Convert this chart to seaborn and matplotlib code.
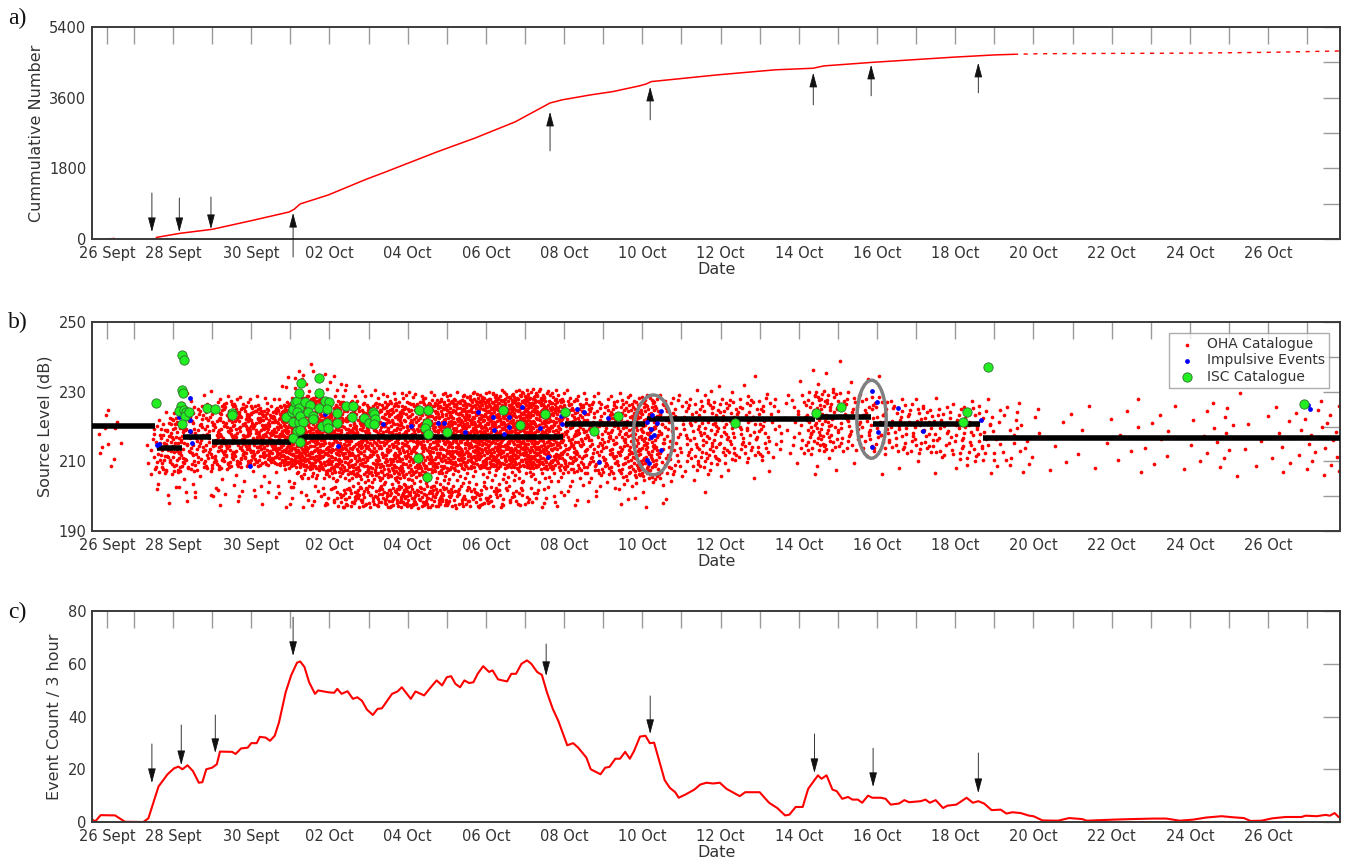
import numpy as np
import pandas as pd
import matplotlib
matplotlib.use("Agg")
import matplotlib.pyplot as plt
from matplotlib.patches import Ellipse
import seaborn as sns

# x axis is in days after 26 Sept 00:00
tick_days = [0.31, 2, 4, 6, 8, 10, 12, 14, 16, 18, 20, 22, 24, 26, 28, 30]
tick_labels = ["26 Sept", "28 Sept", "30 Sept", "02 Oct", "04 Oct", "06 Oct", "08 Oct",
               "10 Oct", "12 Oct", "14 Oct", "16 Oct", "18 Oct", "20 Oct", "22 Oct",
               "24 Oct", "26 Oct"]
minor_days = list(range(1, 32, 2))
x_lim = (-0.07, 31.84)

# a) cumulative number (read off the curve)
cum_days_start = [0.30, 0.38, 0.45, 0.50]
cum_vals_start = [0, 5, 10, 15]
cum_days = [1.57, 2.18, 3.0, 4.0, 4.97, 5.1, 5.25, 5.97, 6.96, 7.37, 7.96, 8.75, 9.73,
            10.75, 11.64, 11.95, 12.67, 13.25, 13.92, 14.1, 14.23, 15.91, 17.4, 18.37,
            18.5, 18.65, 19.88, 21.92, 23.02, 23.5]
cum_vals = [40, 145, 247, 467, 689, 760, 893, 1122, 1530, 1683, 1913, 2219, 2575,
            2985, 3465, 3545, 3670, 3756, 3900, 3950, 4010, 4180, 4310, 4350,
            4380, 4410, 4500, 4630, 4690, 4705]
cum_days_tail = [23.5, 24.2, 26.0, 28.04, 30.0, 31.84]
cum_vals_tail = [4705, 4720, 4728, 4735, 4755, 4790]

# c) event count per 3 hours
rate_days = [-0.07, 0.01, 0.15, 0.52, 0.77, 1.24, 1.37, 1.63, 1.86, 2.03, 2.14, 2.24, 2.37,
             2.51, 2.66, 2.75, 2.85, 3.0, 3.12, 3.2, 3.51, 3.6, 3.74, 3.91, 4.0, 4.14,
             4.22, 4.37, 4.48, 4.6, 4.71, 4.88, 5.02, 5.17, 5.25, 5.36, 5.48, 5.63, 5.71,
             5.97, 6.12, 6.2, 6.31, 6.46, 6.6, 6.71, 6.83, 6.96, 7.11, 7.23, 7.34, 7.45,
             7.6, 7.74, 7.85, 8.08, 8.2, 8.42, 8.63, 8.74, 8.88, 9.0, 9.11, 9.22, 9.34,
             9.45, 9.57, 9.68, 9.79, 9.93, 10.08, 10.17, 10.31, 10.54, 10.65, 10.77,
             10.91, 11.05, 11.16, 11.31, 11.43, 11.56, 11.71, 11.85, 11.96, 12.08,
             12.23, 12.36, 12.57, 12.68, 12.93, 13.05, 13.16, 13.31, 13.43, 13.56,
             13.68, 13.79, 13.94, 14.08, 14.19, 14.3, 14.42, 14.57, 14.7, 14.84, 14.93,
             15.1, 15.33, 15.48, 15.64, 15.81, 15.98, 16.15, 16.49, 16.63, 17.0, 17.24,
             17.45, 17.65, 17.76, 17.92, 18.1, 18.24, 18.49, 18.58, 18.71, 18.86, 18.97,
             19.11, 19.26, 19.37, 19.51, 19.62, 19.77, 19.88, 20.1, 20.22, 20.35, 20.56,
             20.7, 20.82, 21.12, 21.24, 21.35, 21.5, 21.69, 21.8, 22.03, 22.29, 22.45,
             22.59, 22.74, 22.93, 23.16, 23.31, 23.46, 23.67, 23.89, 24.0, 24.23, 24.63,
             24.91, 25.25, 25.36, 26.04, 26.49, 27.06, 27.4, 27.74, 28.08, 28.42, 28.81,
             29.1, 29.38, 29.55, 29.83, 30.11, 30.45, 30.85, 30.96, 31.24, 31.47, 31.58,
             31.7, 31.81]
rate_vals = [1.0, 0.2, 2.6, 2.5, 0.1, 0.0, 1.4, 13.5, 18.1, 20.4, 21.0, 20.0, 21.5,
             19.3, 14.9, 15.1, 20.0, 20.6, 21.9, 26.7, 26.6, 25.8, 27.9, 28.2, 29.9, 29.9,
             32.3, 32.0, 30.8, 32.7, 37.8, 49.2, 55.6, 60.4, 60.9, 58.8, 53.0, 48.6, 49.9,
             49.2, 49.0, 50.5, 48.6, 49.6, 46.7, 47.3, 46.0, 42.6, 40.6, 42.9, 43.1, 45.4,
             48.6, 49.5, 51.1, 46.7, 49.5, 48.0, 51.8, 53.7, 51.8, 54.9, 55.3, 52.4, 51.1,
             53.7, 52.7, 53.0, 56.2, 59.1, 56.9, 57.5, 54.1, 53.3, 56.2, 56.2,
             60.0, 61.3, 60.0, 56.9, 55.8, 49.2, 42.9, 38.4, 34.0, 29.1,
             29.9, 28.2, 24.4, 20.0, 18.1, 20.6, 20.9, 24.0, 24.0, 26.6,
             24.0, 27.0, 32.4, 32.7, 29.9, 30.1, 23.8, 15.9, 13.0, 11.3, 9.2,
             10.4, 12.3, 14.2, 14.9, 14.6, 14.9, 12.6, 9.8, 11.3, 11.3, 7.3,
             5.3, 2.5, 2.8, 5.7, 5.7, 12.6, 17.7, 16.4, 17.7, 12.3, 11.7,
             8.8, 9.5, 8.5, 8.5, 7.3, 10.0, 9.2, 9.2, 8.8, 6.6, 7.0,
             8.3, 7.5, 7.9, 8.5, 7.3, 8.3, 5.3, 6.2, 6.6, 9.2, 7.3,
             7.9, 7.0, 4.5, 4.7, 3.2, 3.7, 3.4, 2.4, 2.2, 0.6, 0.5,
             1.5, 1.1, 0.5, 0.9, 1.1, 1.3, 1.3, 0.5, 0.9, 1.7, 2.2,
             1.8, 1.5, 0.4, 0.5, 1.4, 1.9, 1.9, 2.4, 2.2, 2.7, 2.4,
             3.4, 1.8]

# arrows marking the events
arrow_a_days = [1.46, 2.16, 2.97, 5.07, 11.64, 14.2, 18.37, 19.85, 22.59]
arrow_a_tail = [1173, 1045, 1071, -459, 2244, 3035, 3417, 3647, 3723]
arrow_a_head = [178, 178, 255, 663, 3239, 3876, 4233, 4437, 4488]
arrow_c_days = [1.46, 2.21, 3.08, 5.07, 11.54, 14.2, 18.4, 19.9, 22.59]
arrow_c_tail = [29.6, 36.8, 40.6, 77.7, 67.5, 47.8, 33.4, 28.0, 26.2]
arrow_c_head = [14.8, 21.6, 26.2, 63.0, 55.4, 33.4, 18.6, 13.3, 11.0]

# b) median source level per interval
seg_start = [-0.07, 1.59, 2.26, 3.0, 5.05, 12.03, 14.12, 18.45, 19.9, 22.72]
seg_end = [1.54, 2.23, 2.97, 5.02, 11.98, 14.07, 18.42, 19.85, 22.64, 31.84]
seg_level = [220.2, 213.7, 216.9, 215.5, 216.9, 220.7, 222.2, 222.8, 220.7, 216.8]

# b) spread of the OHA source levels through time (edges of the red cloud)
band_days = [0.3, 1.5, 2.5, 3.5, 4.5, 5.4, 6.5, 8.0, 9.6, 11.2, 13.0, 14.4, 16.4, 19.0, 21.2, 24.0, 30.0]
band_lo = [209, 199.5, 200, 199.5, 199.5, 205, 204, 203, 203, 204, 202, 203, 205, 206, 206, 206, 205.7]
band_q05 = [210, 206, 207, 208, 209, 208, 206, 205, 208, 208, 206, 205, 210, 213, 212, 207, 207]
band_q95 = [225, 220, 226, 227, 225, 229, 227, 227, 228, 229, 227, 228, 228, 231, 226, 226, 227]
band_hi = [226, 222, 232, 229, 229, 240, 232, 230, 230, 231, 230, 229, 233, 241, 229, 228, 230]
deep_frac = [0, 0.03, 0.03, 0.02, 0.02, 0.02, 0.15, 0.22, 0.12, 0.05, 0.02, 0.02, 0, 0, 0, 0, 0]

# b) impulsive events
blue_days = [1.58, 1.64, 2.16, 2.44, 2.46, 2.44, 2.44, 2.48, 3.97, 5.89, 6.23, 7.36, 8.09,
             8.77, 8.92, 9.47, 9.81, 10.19, 10.21, 10.47, 10.58, 10.6, 10.92, 11.39, 11.6,
             11.93, 11.94, 12.33, 12.5, 12.88, 13.11, 14.12, 14.25, 14.48, 14.37, 14.22,
             14.22, 14.3, 14.47, 14.12, 14.18, 19.87, 20.0, 20.02, 19.87, 20.53, 21.17,
             22.67, 31.03, 31.06]
blue_levels = [214.8, 215, 222.6, 228.3, 224.3, 221.9, 218.8, 215.2, 208.8, 223.5, 214.3,
               220.7, 220.3, 221, 221.1, 218.4, 224.1, 222.7, 219, 217.8, 220, 222.6, 225.5,
               219.7, 211.4, 223, 220.7, 225, 224.1, 209.7, 222.4, 221.4, 223.3, 224.6, 221,
               219.3, 216.9, 217.6, 213.3, 210.5, 209.5, 230.3, 227, 218.4, 214.1, 225.2,
               218.6, 222, 226.2, 225]

# b) ISC catalogue
isc_days = [1.57, 2.24, 2.28, 2.22, 2.25, 2.21, 2.16, 2.27, 2.33, 2.31, 2.42, 2.22, 2.86,
            3.08, 3.5, 3.5, 4.88, 5.04, 5.08, 5.12, 5.18, 5.21, 5.28, 5.23, 5.16, 5.08, 5.21,
            5.25, 5.33, 5.16, 5.25, 5.08, 5.25, 5.38, 5.49, 5.46, 5.59, 5.72, 5.72, 5.74,
            5.59, 5.8, 5.89, 6.0, 5.93, 5.93, 5.95, 6.19, 6.2, 6.42, 6.6, 6.57, 6.89, 7.0,
            7.11, 7.14, 7.17, 7.13, 8.28, 8.51, 8.49, 8.45, 8.51, 8.26, 8.49, 9.0, 10.43,
            10.86, 11.5, 12.01, 12.77, 13.37, 16.37, 18.44, 19.08, 22.21, 22.31, 22.85, 30.91]
isc_levels = [226.7, 240.5, 239.2, 230.5, 229.7, 226, 224.5, 224.8, 224.3, 223, 224.3, 220.8,
              225.4, 225, 224, 223.3, 222.7, 224.3, 225, 227.1, 227.3, 229.7, 232.4, 225.4,
              224.1, 221.4, 221.4, 223.1, 221.4, 218.6, 219, 216.7, 215.5, 227.1, 226.2,
              224.3, 223, 234, 229.5, 225.4, 222.2, 220.3, 227.3, 227, 225, 221, 219.7,
              223.8, 221, 226, 226, 222.6, 222.4, 221, 224.1, 223.5, 222.1, 220.7, 224.8,
              224.8, 221, 219.5, 217.9, 211, 205.4, 218.4, 224.8, 220.5, 223.7, 224.3,
              218.6, 223, 221, 224, 225.6, 221.4, 224.1, 237.1, 226.5]

# gray ellipses around the impulsive clusters: (day, level, width, height)
ellipses = [(14.28, 217.6, 1.02, 22.9), (19.86, 222.1, 0.75, 22.4)]


# ---------------------------------------------------------------
# OHA events: count per 3 h bin from panel c, spread over the read-off band
# with a Halton sequence (space filling, no random numbers)
def halton(i, b):
    f, r = 1.0, 0.0
    while i > 0:
        f /= b
        r += f * (i % b)
        i //= b
    return r


bin_w = 0.125
edges = np.arange(x_lim[0], x_lim[1], bin_w)
centres = edges + bin_w / 2
counts = np.interp(centres, rate_days, rate_vals)
cum = np.floor(np.cumsum(counts) + 0.5).astype(int)
n_bin = np.diff(np.concatenate([[0], cum]))

oha_t, oha_l = [], []
k = 20
for e, n in zip(edges, n_bin):
    for j in range(n):
        k += 1
        t = e + bin_w * halton(k, 2)
        u = halton(k, 3)
        lo = np.interp(t, band_days, band_lo)
        q05 = np.interp(t, band_days, band_q05)
        q95 = np.interp(t, band_days, band_q95)
        hi = np.interp(t, band_days, band_hi)
        d = np.interp(t, band_days, deep_frac)
        w5 = halton(k, 5)
        if w5 < d:
            lev = 196.7 + 6.3 * u
        else:
            lev = np.interp(u, [0, 0.04, 0.96, 1.0], [lo, q05, q95, hi])
        oha_t.append(t)
        oha_l.append(lev)
oha = pd.DataFrame({"day": oha_t, "level": oha_l})

# ---------------------------------------------------------------
sns.set_theme(style="white")
plt.rcParams["font.family"] = ["DejaVu Sans"]

fig = plt.figure(figsize=(13.46, 8.66), dpi=100)
axa = fig.add_axes([0.0684, 0.7240, 0.9272, 0.2448])
axb = fig.add_axes([0.0684, 0.3868, 0.9272, 0.2413])
axc = fig.add_axes([0.0684, 0.0508, 0.9272, 0.2436])

txt = "#333333"


def style_axis(ax):
    ax.set_xlim(*x_lim)
    ax.set_xticks(tick_days)
    ax.set_xticklabels(tick_labels)
    ax.set_xticks(minor_days, minor=True)
    ax.tick_params(which="both", direction="in", top=True, right=True, length=12,
                   width=1, color="#9a9a9a", labelcolor=txt, labelsize=10.5)
    ax.tick_params(axis="x", pad=5)
    ax.tick_params(axis="y", pad=4)
    for s in ax.spines.values():
        s.set_color("#3a3a3a")
        s.set_linewidth(1.4)
    ax.set_xlabel("Date", fontsize=11.5, color=txt, labelpad=1)


def draw_arrows(ax, days, tails, heads):
    for d, t, h in zip(days, tails, heads):
        ax.annotate("", xy=(d, h), xytext=(d, t), annotation_clip=False,
                    arrowprops=dict(arrowstyle="-|>,head_length=0.75,head_width=0.2",
                                    color="#111111", lw=0.6, shrinkA=0, shrinkB=0))


# a) cumulative
sns.lineplot(x=cum_days_start, y=cum_vals_start, color="red", lw=1.1, ax=axa)
sns.lineplot(x=cum_days, y=cum_vals, color="red", lw=1.1, ax=axa)
sns.lineplot(x=cum_days_tail, y=cum_vals_tail, color="red", lw=1.0,
             linestyle=(0, (3, 4)), ax=axa)
axa.set_ylim(0, 5400)
axa.set_yticks([0, 1800, 3600, 5400])
axa.set_yticks([900, 2700, 4500], minor=True)
axa.set_ylabel("Cummulative Number", fontsize=11.5, color=txt)
style_axis(axa)
draw_arrows(axa, arrow_a_days, arrow_a_tail, arrow_a_head)

# b) source level
sns.scatterplot(data=oha, x="day", y="level", color="red", s=7, linewidth=0,
                label="OHA Catalogue", ax=axb, zorder=2)
axb.hlines(seg_level, seg_start, seg_end, color="black", lw=4, zorder=3)
sns.scatterplot(x=blue_days, y=blue_levels, color="#0000ff", s=12, linewidth=0,
                label="Impulsive Events", ax=axb, zorder=4)
sns.scatterplot(x=isc_days, y=isc_levels, color="#22ee22", s=45, edgecolor="#2f6f2f",
                linewidth=0.6, label="ISC Catalogue", ax=axb, zorder=5)
for cx, cy, w, h in ellipses:
    axb.add_patch(Ellipse((cx, cy), w, h, fill=False, edgecolor="#808080", lw=2.5, zorder=6))
axb.set_ylim(190, 250)
axb.set_yticks([190, 210, 230, 250])
axb.set_yticks([200, 220, 240], minor=True)
axb.set_ylabel("Source Level (dB)", fontsize=11.5, color=txt)
style_axis(axb)
leg = axb.legend(loc="upper right", fontsize=10, frameon=True, fancybox=False,
                 borderaxespad=0.8, handletextpad=0.4, borderpad=0.3, labelspacing=0.15)
leg.get_frame().set_edgecolor("#999999")
leg.get_frame().set_linewidth(1.0)
for t in leg.get_texts():
    t.set_color(txt)

# c) event rate
sns.lineplot(x=rate_days, y=rate_vals, color="red", lw=1.5, ax=axc)
axc.set_ylim(0, 80)
axc.set_yticks([0, 20, 40, 60, 80])
axc.set_ylabel("Event Count / 3 hour", fontsize=11.5, color=txt)
style_axis(axc)
draw_arrows(axc, arrow_c_days, arrow_c_tail, arrow_c_head)

for lab, y in [("a)", 0.979), ("b)", 0.628), ("c)", 0.293)]:
    fig.text(0.006, y, lab, family="Liberation Serif", fontsize=17, va="center", color="#111111")

fig.savefig("out.png", dpi=100)
